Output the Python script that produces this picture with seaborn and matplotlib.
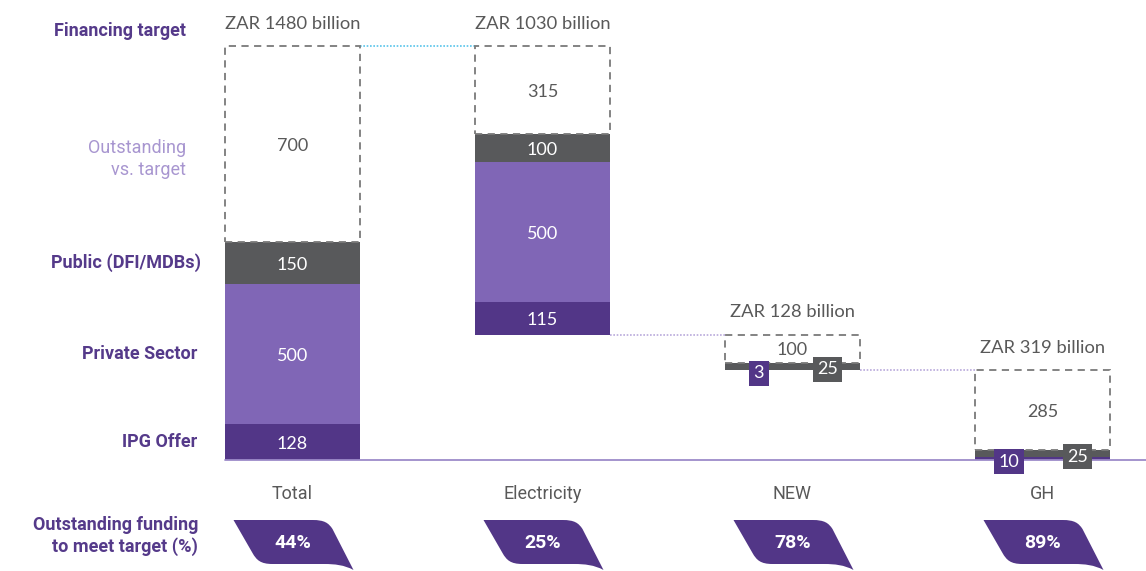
import numpy as np
import pandas as pd
import matplotlib
matplotlib.use("Agg")
import matplotlib.pyplot as plt
import seaborn as sns
from matplotlib.path import Path
from matplotlib.patches import PathPatch

# данные (ZAR billion)
categories = ["Total", "Electricity", "NEW", "GH"]
ipg_offer = [128, 115, 3, 10]
private_sector = [500, 500, 0, 0]
public_dfi = [150, 100, 25, 25]
outstanding = [700, 315, 100, 285]
target_labels = ["ZAR 1480 billion", "ZAR 1030 billion", "ZAR 128 billion", "ZAR 319 billion"]
outstanding_pct = ["44%", "25%", "78%", "89%"]

DARK_PURPLE = "#523687"
MID_PURPLE = "#8066b6"
DARK_GREY = "#58595b"
LABEL_PURPLE = "#553a8a"
LIGHT_PURPLE = "#a896d0"
TEXT_GREY = "#595959"
BAR_WIDTH = 0.54
ROBOTO = ["Roboto", "DejaVu Sans"]

# pixel <-> data mapping (axes fill the whole figure)
X0, XS = 292.5, 250.0
Y0, YS = 460.0, 414 / 1478


def px(x, y):
    return (x - X0) / XS, (Y0 - y) / YS


df = pd.DataFrame({
    "category": categories,
    "ipg": ipg_offer,
    "private": private_sector,
    "public": public_dfi,
    "outstanding": outstanding,
})
totals = df[["ipg", "private", "public", "outstanding"]].sum(axis=1).to_numpy()

# waterfall: Electricity hangs from the Total top, the rest from the previous bottom
tops = np.zeros(len(df))
tops[0] = totals[0]
tops[1] = totals[0]
for i in range(2, len(df)):
    tops[i] = tops[i - 1] - totals[i - 1]
bases = tops - totals

sns.set_theme(style="white")
plt.rcParams["font.family"] = ["Lato", "DejaVu Sans"]

fig = plt.figure(figsize=(11.46, 5.71), dpi=100)
ax = fig.add_axes([0, 0, 1, 1])

bottom = bases.copy()
segments = [("ipg", DARK_PURPLE), ("private", MID_PURPLE), ("public", DARK_GREY)]
seg_bottoms = {}
for col, color in segments:
    seg_bottoms[col] = bottom.copy()
    sns.barplot(data=df, x="category", y=col, bottom=bottom, color=color,
                saturation=1, width=BAR_WIDTH, errorbar=None, linewidth=0, ax=ax, zorder=2)
    bottom = bottom + df[col].to_numpy()
seg_bottoms["outstanding"] = bottom.copy()
sns.barplot(data=df, x="category", y="outstanding", bottom=bottom, color="#7a7a7a",
            fill=False, saturation=1, width=BAR_WIDTH, errorbar=None,
            linewidth=1.3, linestyle=(0, (4, 3)), ax=ax, zorder=3)

ax.set_xlim(-X0 / XS, (1146 - X0) / XS)
ax.set_ylim((Y0 - 571) / YS, Y0 / YS)
ax.axis("off")

# segment values
for i in range(len(df)):
    for col in ["ipg", "private", "public", "outstanding"]:
        v = df[col].iloc[i]
        if v == 0:
            continue
        yc = seg_bottoms[col][i] + v / 2
        if col == "outstanding":
            ax.text(i, yc, str(v), ha="center", va="center_baseline", color=TEXT_GREY,
                    fontsize=13, zorder=5)
        elif v >= 50:
            ax.text(i, yc, str(v), ha="center", va="center_baseline", color="white",
                    fontsize=13, zorder=5)
        else:
            dx = -0.135 if col == "ipg" else 0.14
            fc = DARK_PURPLE if col == "ipg" else DARK_GREY
            ax.text(i + dx, yc - 6, str(v), ha="center", va="center_baseline", color="white",
                    fontsize=13, zorder=6,
                    bbox=dict(boxstyle="square,pad=0.25", fc=fc, ec="none"))
    ax.annotate(target_labels[i], (i, tops[i]), xytext=(0, 16), textcoords="offset points",
                ha="center", va="center", color=TEXT_GREY, fontsize=13.2)

# connectors and baseline
half = BAR_WIDTH / 2
ax.plot([half, 1 - half], [tops[0], tops[1]], color="#57c3ea", lw=1.2, ls=(0, (1, 1)), zorder=1)
ax.plot([1 + half, 2 - half], [bases[1], tops[2]], color="#b9a9db", lw=1.2, ls=(0, (1, 1)), zorder=1)
ax.plot([2 + half, 3 - half], [bases[2], tops[3]], color="#b9a9db", lw=1.2, ls=(0, (1, 1)), zorder=1)
ax.plot([-half, (1146 - X0) / XS], [0, 0], color="#9d8bc9", lw=1.3, zorder=4)

# row labels on the left
lab = dict(ha="right", va="center", fontsize=13, family=ROBOTO)
ax.text(*px(186, 31), "Financing target", color=LABEL_PURPLE, fontweight="bold", **lab)
ax.text(*px(186, 159), "Outstanding\nvs. target", color=LIGHT_PURPLE, linespacing=1.3, **lab)
ax.text(px(201, 0)[0], seg_bottoms["public"][0] + public_dfi[0] / 2, "Public (DFI/MDBs)",
        color=LABEL_PURPLE, fontweight="bold", **lab)
ax.text(px(197, 0)[0], seg_bottoms["private"][0] + private_sector[0] / 2, "Private Sector",
        color=LABEL_PURPLE, fontweight="bold", **lab)
ax.text(px(197, 0)[0], seg_bottoms["ipg"][0] + ipg_offer[0] / 2, "IPG Offer",
        color=LABEL_PURPLE, fontweight="bold", **lab)
ax.text(*px(198, 536), "Outstanding funding\nto meet target (%)", color=LABEL_PURPLE,
        fontweight="bold", linespacing=1.2, **lab)

# category names and percentage badges
badge = [(-59, -23), (20, -23), (32, -23), (36, -20), (40, -14), (61, 27),
         (52, 22), (42, 21), (32, 21), (-20, 21), (-32, 21), (-36, 17), (-40, 10), (-59, -23)]
codes = [Path.MOVETO, Path.LINETO, Path.CURVE4, Path.CURVE4, Path.CURVE4, Path.LINETO,
         Path.CURVE4, Path.CURVE4, Path.CURVE4, Path.LINETO, Path.CURVE4, Path.CURVE4, Path.CURVE4,
         Path.CLOSEPOLY]
for i, cat in enumerate(categories):
    ax.text(i, px(0, 494)[1], cat, ha="center", va="center", color=TEXT_GREY, fontsize=13,
            family=ROBOTO)
    verts = [(i + dx / XS, (Y0 - (543 + dy)) / YS) for dx, dy in badge]
    ax.add_patch(PathPatch(Path(verts, codes), fc=DARK_PURPLE, ec="none", zorder=3))
    ax.text(i, px(0, 543)[1], outstanding_pct[i], ha="center", va="center", color="white",
            fontsize=14, fontweight="bold", family=ROBOTO, zorder=4)

fig.savefig("out.png", dpi=100)
plt.close(fig)
